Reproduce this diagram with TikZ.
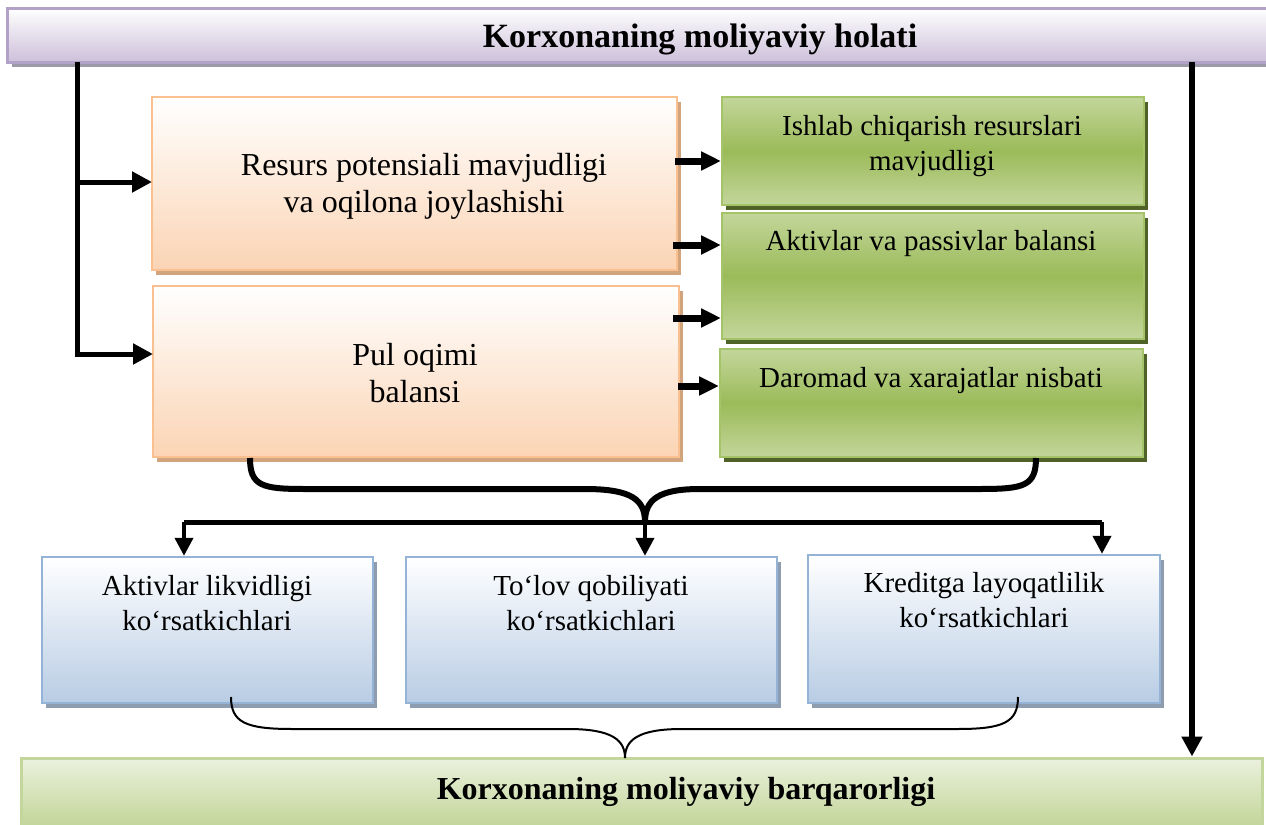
\documentclass[tikz,border=0pt]{standalone}
\usepackage{fontspec}
\setmainfont{Liberation Serif}
\usetikzlibrary{arrows.meta,shadows}

\definecolor{vioBorder}{HTML}{B3A2C7}
\definecolor{vioBot}{HTML}{CCC0DA}
\definecolor{vioShadow}{HTML}{9E99A8}
\definecolor{orBorder}{HTML}{FAC090}
\definecolor{orBot}{HTML}{FBD4B4}
\definecolor{orShadow}{HTML}{D2A47E}
\definecolor{gnLight}{HTML}{C3D69B}
\definecolor{gnMid}{HTML}{9BBB59}
\definecolor{gnBorder}{HTML}{A5C46A}
\definecolor{gnShadow}{HTML}{4F6228}
\definecolor{blBorder}{HTML}{95B3D7}
\definecolor{blBot}{HTML}{B8CCE4}
\definecolor{blShadow}{HTML}{8E9CB0}
\definecolor{lgTop}{HTML}{EBF1DE}
\definecolor{lgBot}{HTML}{C4D79B}
\definecolor{lgBorder}{HTML}{C3D69B}

\tikzset{
  box/.style={rectangle, inner sep=0pt, line width=1pt},
  vbox/.style={box, draw=vioBorder, line width=1.5pt, top color=white, bottom color=vioBot,
    general shadow={fill=vioShadow, shadow xshift=2.5pt, shadow yshift=-2.5pt}},
  obox/.style={box, draw=orBorder, top color=white, bottom color=orBot,
    general shadow={fill=orShadow, shadow xshift=2pt, shadow yshift=-2.5pt}},
  gbox/.style={box, draw=gnBorder, top color=gnLight, bottom color=gnLight, middle color=gnMid,
    general shadow={fill=gnShadow, shadow xshift=2pt, shadow yshift=-2.5pt}},
  bbox/.style={box, draw=blBorder, line width=1.2pt, top color=white, bottom color=blBot,
    general shadow={fill=blShadow, shadow xshift=2pt, shadow yshift=-2.5pt}},
  lbox/.style={box, draw=lgBorder, line width=1.5pt, top color=lgTop, bottom color=lgBot},
  bigtxt/.style={align=center, font=\fontsize{16}{18.5}\selectfont},
  smalltxt/.style={align=center, font=\fontsize{14.5}{17.5}\selectfont},
  toptitle/.style={align=center, font=\fontsize{17}{20}\selectfont\bfseries},
  bottitle/.style={align=center, font=\fontsize{16}{19}\selectfont\bfseries},
  feed/.style={line width=2.5pt, -{Triangle[length=10pt,width=10pt]}},
  side/.style={line width=3.5pt, -{Triangle[length=10pt,width=9pt]}},
  trunk/.style={line width=3pt, -{Triangle[length=10pt,width=10pt]}},
  bracethick/.style={line width=3pt},
  rail/.style={line width=2.5pt},
  drop/.style={line width=2pt, -{Triangle[length=9pt,width=9pt]}},
  bracethin/.style={line width=1pt},
}

\begin{document}
\begin{tikzpicture}[x=0.5pt, y=-0.5pt]
\useasboundingbox (0,0) rectangle (1266,825);

% header and footer banners
\node[vbox, minimum width=640pt, minimum height=27pt] (top) at (647,35) {};
\node[toptitle] (toptxt) at (700,39) {Korxonaning moliyaviy holati};

% left column: potential and cash flow
\node[obox, minimum width=262.5pt, minimum height=86.5pt] (o1) at (414.5,183.5) {};
\node[obox, minimum width=263pt, minimum height=85.5pt] (o2) at (416,371.5) {};
\node[bigtxt] (o1t) at (424,186) {Resurs potensiali mavjudligi\\va oqilona joylashishi};
\node[bigtxt] (o2t) at (415,373) {Pul oqimi\\balansi};

% right column: green indicators
\node[gbox, minimum width=211pt, minimum height=54pt] (g1) at (933,151) {};
\node[gbox, minimum width=211pt, minimum height=63pt] (g2) at (933,276) {};
\node[gbox, minimum width=211.5pt, minimum height=54pt] (g3) at (931.5,403) {};
\node[smalltxt] (g1t) at (932,146) {Ishlab chiqarish resurslari\\mavjudligi};
\node[smalltxt] (g2t) at (931,244) {Aktivlar va passivlar balansi};
\node[smalltxt] (g3t) at (931,381) {Daromad va xarajatlar nisbati};

% lower row: indicator groups
\node[bbox, minimum width=165.5pt, minimum height=73pt] (b1) at (207.5,630) {};
\node[bbox, minimum width=185.5pt, minimum height=73pt] (b2) at (591.5,630) {};
\node[bbox, minimum width=176pt, minimum height=74pt] (b3) at (984,629) {};
\node[smalltxt] (b1t) at (207,603) {Aktivlar likvidligi\\ko‘rsatkichlari};
\node[smalltxt] (b2t) at (591,603) {To‘lov qobiliyati\\ko‘rsatkichlari};
\node[smalltxt] (b3t) at (984,600) {Kreditga layoqatlilik\\ko‘rsatkichlari};

\node[lbox, minimum width=620.5pt, minimum height=32.5pt] (bot) at (641.5,790.5) {};
\node[bottitle] (bottxt) at (686,792) {Korxonaning moliyaviy barqarorligi};

% left feed line into the two left boxes
\coordinate (L0) at (77,62);
\coordinate (o1in) at (152,182);
\coordinate (o2in) at (153,354);
\draw[feed] (L0) |- (o1in);
\draw[feed] (L0) |- (o2in);

% right trunk down to the footer
\coordinate (R0) at (1192,62);
\draw[trunk] (R0) -- (R0 |- bot.north);

% short arrows into the green boxes
\coordinate (a1) at (675,161);
\coordinate (a2) at (673,245);
\coordinate (a3) at (673,318);
\coordinate (a4) at (678,386);
\draw[side] (a1) -- (a1 -| g1.west);
\draw[side] (a2) -- (a2 -| g2.west);
\draw[side] (a3) -- (a3 -| g2.west);
\draw[side] (a4) -- (a4 -| g3.west);

% thick brace joining both columns
\coordinate (J) at (645,522);
\draw[bracethick] (o2.south -| 250,0) .. controls (250,486) and (262,489) .. (305,489)
  -- (585,489) .. controls (632,489) and (645,500) .. (J);
\draw[bracethick] (g3.south -| 1036,0) .. controls (1036,486) and (1024,489) .. (980,489)
  -- (700,489) .. controls (658,489) and (645,500) .. (J);

% distribution rail and drops
\coordinate (D1) at (184,522);
\coordinate (D3) at (1102,522);
\draw[rail] (D1) -- (D3);
\draw[drop] (D1) -- (D1 |- b1.north);
\draw[drop] (J) -- (J |- b2.north);
\draw[drop] (D3) -- (D3 |- b3.north);

% thin brace gathering the indicator groups
\coordinate (T) at (625,758);
\draw[bracethin] (231,697) .. controls (231,722) and (245,729) .. (292,729)
  -- (568,729) .. controls (612,729) and (625,740) .. (T);
\draw[bracethin] (1018,697) .. controls (1018,722) and (1004,729) .. (958,729)
  -- (682,729) .. controls (638,729) and (625,740) .. (T);
\end{tikzpicture}
\end{document}
